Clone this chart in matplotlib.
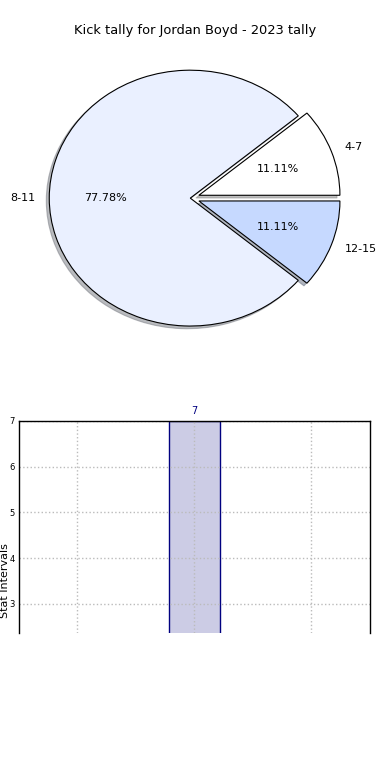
import matplotlib
matplotlib.use("Agg")
import matplotlib.pyplot as plt

# pie data
interval_labels = ["4-7", "8-11", "12-15"]
interval_counts = [1, 7, 1]
interval_explode = [0.065, 0.0, 0.065]
interval_colors = ["#ffffff", "#eaf0ff", "#c6d9ff"]

# bar data
bar_positions = [0]
bar_values = [7]

fig = plt.figure(figsize=(3.9, 7.8), dpi=100)

ax = fig.add_axes([0.0359, 0.541, 0.904, 0.410])
wedges, texts, autotexts = ax.pie(interval_counts, labels=interval_labels, explode=interval_explode,
                                  colors=interval_colors, autopct="%1.2f%%",
                                  shadow={"ox": -0.015, "oy": -0.015, "shade": 0.5},
                                  startangle=0, counterclock=True,
                                  wedgeprops={"edgecolor": "black", "linewidth": 0.8},
                                  textprops={"fontsize": 8})
ax.set_aspect("auto")
ax.set_xlim(-1.25, 1.25)
ax.set_ylim(-1.25, 1.25)
fig.text(0.5, 0.9615, "Kick tally for Jordan Boyd - 2023 tally", fontsize=9.4, ha="center", va="center")

ax2 = fig.add_axes([0.0487, 0.1885, 0.9, 0.2718])
ax2.bar(bar_positions, bar_values, width=0.44, color="navy", alpha=0.2, zorder=1)
ax2.bar(bar_positions, bar_values, width=0.44, facecolor="none", edgecolor="navy", linewidth=1, zorder=1.2)
for x, v in zip(bar_positions, bar_values):
    ax2.text(x, v + 0.1, str(v), ha="center", va="bottom", color="navy", fontsize=7)
ax2.set_xlim(-1.5, 1.5)
ax2.set_ylim(2.36, 7)
ax2.set_xticks([-1, 0, 1])
ax2.set_xticklabels([])
ax2.set_yticks([3, 4, 5, 6, 7])
ax2.tick_params(axis="both", length=0, labelsize=6, pad=3)
ax2.tick_params(axis="x", labelbottom=False)
ax2.set_axisbelow("line")
ax2.grid(True, linestyle=":", color="#bbbbbb", linewidth=1)
ax2.spines["bottom"].set_visible(False)
for s in ["left", "right", "top"]:
    ax2.spines[s].set_linewidth(1)
    ax2.spines[s].set_zorder(3)
ax2.set_ylabel("Stat Intervals", fontsize=8)
ax2.yaxis.set_label_coords(-0.026, 0.245)

fig.savefig("out.png", dpi=100)
